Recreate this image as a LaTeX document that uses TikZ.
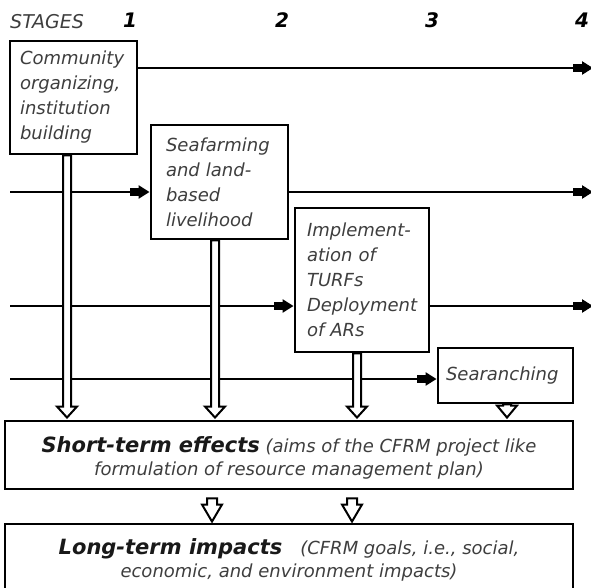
\documentclass[tikz,border=0pt]{standalone}
\usepackage{fontspec}
\setmainfont{DejaVu Sans}
\usetikzlibrary{arrows.meta,calc}
\definecolor{txt}{RGB}{62,62,62}
\newcommand\harrowdraw[5]{%
  \draw[hollow] ([xshift=-#3pt]#1) -- ([xshift=-#3pt,yshift=#5pt]#2) -- ([xshift=-#4pt,yshift=#5pt]#2) -- (#2) -- ([xshift=#4pt,yshift=#5pt]#2) -- ([xshift=#3pt,yshift=#5pt]#2) -- ([xshift=#3pt]#1) -- cycle;}
\newcommand\bigbold[1]{{\fontsize{21}{22}\selectfont\bfseries\color{black!90}#1}}
\begin{document}
\begin{tikzpicture}[x=1pt,y=-1pt,
  lbl/.style={font=\fontsize{18}{25}\selectfont\itshape, text=txt},
  stepbox/.style={draw, line width=2.9pt, fill=white, inner ysep=0pt, align=left, lbl},
  flow/.style={line width=2.5pt, -{Rectangle[length=9pt,width=8pt,sep=0pt]Triangle[length=11pt,width=13pt]}},
  hollow/.style={draw=black, fill=white, line width=2pt, line join=miter},
  wide/.style={draw, line width=2.9pt, minimum width=568pt, align=center, inner sep=0pt, font=\fontsize{18}{22.5}\selectfont\itshape, text=txt},
]
\path[use as bounding box] (0,0) rectangle (591,588);
\clip (0,0) rectangle (591,588);

% header
\node[anchor=base west, inner sep=0pt, font=\fontsize{19}{19}\selectfont\itshape, text=txt] (stg) at (10,29) {STAGES};
\node[anchor=base, inner sep=0pt, font=\fontsize{20}{20}\selectfont\bfseries\itshape] (n1) at (130,28) {1};
\node[anchor=base, inner sep=0pt, font=\fontsize{20}{20}\selectfont\bfseries\itshape] (n2) at (282,28) {2};
\node[anchor=base, inner sep=0pt, font=\fontsize{20}{20}\selectfont\bfseries\itshape] (n3) at (432,28) {3};
\node[anchor=base, inner sep=0pt, font=\fontsize{20}{20}\selectfont\bfseries\itshape] (n4) at (582,28) {4};

% stage boxes
\node[stepbox, text width=107pt, inner xsep=10pt, minimum height=113pt] (b1) at (73.5,97.5) {Community\\organizing,\\institution\\building};
\node[stepbox, text width=107pt, inner xsep=15pt, minimum height=114pt] (b2) at (219.5,182) {Seafarming\\and land-\\based\\livelihood};
\node[stepbox, text width=110pt, inner xsep=12pt, minimum height=144pt] (b3) at (362,280) {Implement-\\ation of\\TURFs\\Deployment\\of ARs};
\node[stepbox, text width=119pt, inner xsep=8pt, minimum height=55pt] (b4) at (505.5,375.5) {Searanching};

% effect boxes
\node[wide, minimum height=68pt] (st) at (289,455) {\rule{0pt}{22pt}\bigbold{Short-term effects} (aims of the CFRM project like\\formulation of resource management plan)};
\node[wide, minimum height=72pt] (lt) at (289,560) {\bigbold{Long-term impacts}\quad(CFRM goals, i.e., social,\\economic, and environment impacts)};

% horizontal flows
\coordinate (R1) at (593,68);
\coordinate (L2) at (10,192); \coordinate (R2) at (593,192);
\coordinate (L3) at (10,306); \coordinate (R3) at (593,306);
\coordinate (L4) at (10,379);
\draw[flow] (R1 -| b1.east) -- (R1);
\draw[flow] (L2) -- (L2 -| b2.west);
\draw[flow] (R2 -| b2.east) -- (R2);
\draw[flow] (L3) -- (L3 -| b3.west);
\draw[flow] (R3 -| b3.east) -- (R3);
\draw[flow] (L4) -- (L4 -| b4.west);

% hollow arrows
\coordinate (s1) at ([xshift=-6.5pt]b1.south);
\coordinate (t1) at ([yshift=2pt]s1 |- st.north);
\coordinate (s2) at ([xshift=-4.5pt]b2.south);
\coordinate (t2) at ([yshift=2pt]s2 |- st.north);
\coordinate (s3) at ([xshift=-5pt]b3.south);
\coordinate (t3) at ([yshift=2pt]s3 |- st.north);
\coordinate (s4) at ([xshift=1.5pt]b4.south);
\coordinate (t4) at ([yshift=2pt]s4 |- st.north);
\coordinate (s5) at ([xshift=-77pt,yshift=-8pt]st.south);
\coordinate (t5) at ([yshift=1pt]s5 |- lt.north);
\coordinate (s6) at ([xshift=63pt,yshift=-8pt]st.south);
\coordinate (t6) at ([yshift=1pt]s6 |- lt.north);
\harrowdraw{s1}{t1}{4}{10}{11}
\harrowdraw{s2}{t2}{4}{10}{11}
\harrowdraw{s3}{t3}{4}{10}{11}
\harrowdraw{s4}{t4}{4}{10}{12}
\harrowdraw{s5}{t5}{5}{10}{17}
\harrowdraw{s6}{t6}{5}{10}{17}
\end{tikzpicture}
\end{document}
